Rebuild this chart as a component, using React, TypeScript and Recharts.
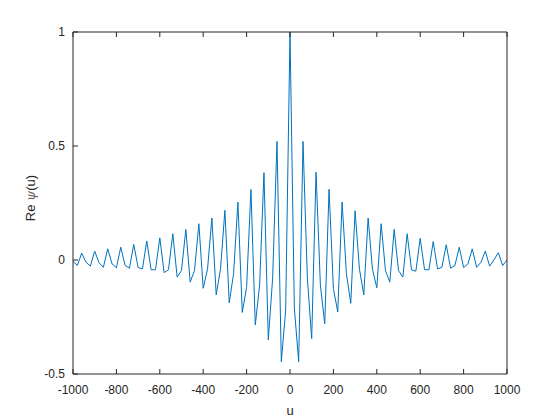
import { LineChart, Line, XAxis, YAxis } from 'recharts'

const uValues = [
  -1000, -980, -960, -940, -920, -900, -880, -860, -840, -820,
  -800, -780, -760, -740, -720, -700, -680, -660, -640, -620,
  -600, -580, -560, -540, -520, -500, -480, -460, -440, -420,
  -400, -380, -360, -340, -320, -300, -280, -260, -240, -220,
  -200, -180, -160, -140, -120, -100, -80, -60, -40, -20,
  0,
  20, 40, 60, 80, 100, 120, 140, 160, 180, 200,
  220, 240, 260, 280, 300, 320, 340, 360, 380, 400,
  420, 440, 460, 480, 500, 520, 540, 560, 580, 600,
  620, 640, 660, 680, 700, 720, 740, 760, 780, 800,
  820, 840, 860, 880, 900, 920, 940, 960, 980, 1000,
]

// Re psi(u)
const reValues = [
  -0.006, -0.024, 0.03, -0.01, -0.027, 0.039, -0.012, -0.032, 0.049, -0.017,
  -0.034, 0.056, -0.024, -0.036, 0.068, -0.033, -0.039, 0.083, -0.043, -0.043,
  0.097, -0.055, -0.043, 0.115, -0.075, -0.046, 0.134, -0.097, -0.046, 0.159,
  -0.124, -0.04, 0.184, -0.153, -0.038, 0.218, -0.188, -0.06, 0.254, -0.23,
  -0.12, 0.309, -0.285, -0.11, 0.383, -0.35, -0.08, 0.52, -0.446, -0.22,
  1,
  -0.21, -0.446, 0.52, -0.08, -0.345, 0.385, -0.11, -0.28, 0.31, -0.125,
  -0.228, 0.254, -0.06, -0.19, 0.216, -0.04, -0.153, 0.184, -0.04, -0.122,
  0.159, -0.046, -0.097, 0.134, -0.046, -0.075, 0.115, -0.043, -0.049, 0.095,
  -0.042, -0.043, 0.081, -0.039, -0.032, 0.067, -0.036, -0.024, 0.056, -0.033,
  -0.017, 0.049, -0.032, -0.01, 0.039, -0.027, 0.001, 0.032, -0.024, 0.0,
]

const xTicks = [-1000, -800, -600, -400, -200, 0, 200, 400, 600, 800, 1000]
const yTicks = [-0.5, 0, 0.5, 1]

const data = uValues.map((u, i) => ({ u, re: reValues[i] }))

const AX = '#262626'
const FONT = '"Liberation Sans", Arial, Helvetica, sans-serif'
const TICK_LEN = 5

const BottomTick = ({ x, y, payload }: any) => (
  <g>
    <line x1={x} y1={y} x2={x} y2={y - TICK_LEN} stroke={AX} />
    <text x={x} y={y + 19.5} textAnchor="middle" fontSize={12} fill={AX} fontFamily={FONT}>
      {payload.value}
    </text>
  </g>
)

const TopTick = ({ x, y }: any) => <line x1={x} y1={y} x2={x} y2={y + TICK_LEN} stroke={AX} />

const LeftTick = ({ x, y, payload }: any) => (
  <g>
    <line x1={x} y1={y} x2={x + TICK_LEN} y2={y} stroke={AX} />
    <text x={x - 8} y={y + 4.3} textAnchor="end" fontSize={12} fill={AX} fontFamily={FONT}>
      {payload.value}
    </text>
  </g>
)

const RightTick = ({ x, y }: any) => <line x1={x} y1={y} x2={x - TICK_LEN} y2={y} stroke={AX} />

const XLabel = ({ viewBox }: any) => (
  <text
    x={viewBox.x + viewBox.width / 2}
    y={viewBox.y + 40.5}
    textAnchor="middle"
    fontSize={13}
    fill={AX}
    fontFamily={FONT}
  >
    u
  </text>
)

const YLabel = ({ viewBox }: any) => (
  <text
    transform={`translate(${viewBox.x + viewBox.width - 38}, ${viewBox.y + viewBox.height / 2 - 5}) rotate(-90)`}
    textAnchor="middle"
    fontSize={13}
    fill={AX}
    fontFamily={FONT}
  >
    Re <tspan fontStyle="italic" fontFamily="'DejaVu Serif', serif" fill="#666">ψ</tspan>(u)
  </text>
)

export default function App() {
  return (
    <div style={{ position: 'absolute', left: 0, top: 0, width: 560, height: 420, background: '#fff' }}>
      <LineChart width={560} height={420} data={data} margin={{ top: 31, right: 52, bottom: 45, left: 72 }}>
        <XAxis
          dataKey="u"
          type="number"
          domain={[-1000, 1000]}
          ticks={xTicks}
          interval={0}
          height={1}
          tickSize={0}
          tickMargin={0}
          tickLine={false}
          axisLine={{ stroke: AX }}
          tick={<BottomTick />}
          label={<XLabel />}
        />
        <XAxis
          xAxisId="top"
          orientation="top"
          dataKey="u"
          type="number"
          domain={[-1000, 1000]}
          ticks={xTicks}
          interval={0}
          height={1}
          tickSize={0}
          tickMargin={0}
          tickLine={false}
          axisLine={{ stroke: AX }}
          tick={<TopTick />}
        />
        <YAxis
          type="number"
          domain={[-0.5, 1]}
          ticks={yTicks}
          interval={0}
          width={1}
          tickSize={0}
          tickMargin={0}
          tickLine={false}
          axisLine={{ stroke: AX }}
          tick={<LeftTick />}
          label={<YLabel />}
        />
        <YAxis
          yAxisId="right"
          orientation="right"
          type="number"
          domain={[-0.5, 1]}
          ticks={yTicks}
          interval={0}
          width={1}
          tickSize={0}
          tickMargin={0}
          tickLine={false}
          axisLine={{ stroke: AX }}
          tick={<RightTick />}
        />
        <Line
          type="linear"
          dataKey="re"
          stroke="#0072BD"
          strokeWidth={1}
          dot={false}
          isAnimationActive={false}
        />
      </LineChart>
    </div>
  )
}
